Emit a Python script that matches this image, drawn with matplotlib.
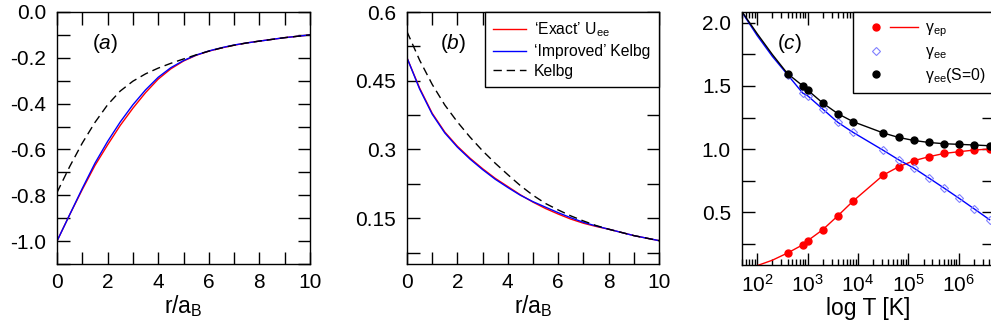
import matplotlib
matplotlib.use("Agg")
import matplotlib.pyplot as plt
from matplotlib.ticker import MultipleLocator, FuncFormatter, LogLocator, NullFormatter
from matplotlib.lines import Line2D
from matplotlib.legend_handler import HandlerTuple

plt.rcParams['font.family'] = ['Liberation Sans', 'DejaVu Sans']
plt.rcParams['mathtext.fontset'] = 'custom'
plt.rcParams['mathtext.rm'] = 'Liberation Sans'
plt.rcParams['mathtext.it'] = 'Liberation Sans:italic'
plt.rcParams['mathtext.bf'] = 'Liberation Sans:bold'
plt.rcParams['axes.unicode_minus'] = False

# ---- data ----
r = [0, 0.5, 1, 1.5, 2, 2.5, 3, 3.5, 4, 4.5, 5, 5.5, 6, 6.5, 7, 7.5, 8, 9, 10]

# (a) e-p potentials
a_exact = [-1.0, -0.885, -0.775, -0.67, -0.58, -0.495, -0.42, -0.352, -0.293, -0.248,
           -0.214, -0.189, -0.171, -0.157, -0.145, -0.135, -0.127, -0.112, -0.100]
a_improved = [-1.0, -0.885, -0.77, -0.66, -0.565, -0.48, -0.405, -0.34, -0.285, -0.243,
              -0.212, -0.188, -0.170, -0.156, -0.144, -0.135, -0.127, -0.112, -0.100]
a_kelbg = [-0.788, -0.675, -0.572, -0.482, -0.405, -0.345, -0.302, -0.27, -0.245, -0.224,
           -0.205, -0.187, -0.171, -0.157, -0.145, -0.135, -0.127, -0.112, -0.100]

# (b) e-e potentials
b_exact = [0.50, 0.434, 0.379, 0.338, 0.307, 0.281, 0.258, 0.237, 0.219, 0.201,
           0.185, 0.171, 0.159, 0.148, 0.139, 0.132, 0.126, 0.112, 0.101]
b_improved = [0.50, 0.432, 0.377, 0.336, 0.305, 0.279, 0.256, 0.235, 0.217, 0.200,
              0.186, 0.174, 0.162, 0.151, 0.141, 0.133, 0.126, 0.112, 0.101]
b_kelbg = [0.557, 0.495, 0.442, 0.397, 0.36, 0.327, 0.297, 0.27, 0.245, 0.221,
           0.200, 0.182, 0.168, 0.155, 0.144, 0.134, 0.126, 0.112, 0.101]

# (c) gamma parameters vs temperature
T_pts = [400, 800, 1000, 2000, 4000, 8000, 32000, 64000, 128000, 256000,
         512000, 1024000, 2048000, 4096000]
g_ep = [0.175, 0.24, 0.272, 0.36, 0.471, 0.587, 0.794, 0.859, 0.907, 0.939,
        0.965, 0.979, 0.992, 1.0]
g_ee = [1.59, 1.444, 1.423, 1.317, 1.211, 1.132, 0.989, 0.915, 0.849, 0.770,
        0.69, 0.608, 0.524, 0.439]
g_ee_s0 = [1.598, 1.502, 1.468, 1.365, 1.28, 1.217, 1.127, 1.092, 1.068, 1.052,
           1.042, 1.037, 1.032, 1.026]

# low-temperature ends of the fitted lines
T_low = [50, 100, 200]
g_ep_low = [0.05, 0.075, 0.118]
g_ee_low = [2.085, 1.9, 1.735]
g_ee_s0_low = [2.09, 1.915, 1.75]

W, H = 991, 336
fig = plt.figure(figsize=(W / 100, H / 100), dpi=100)

ax_a = fig.add_axes([57 / W, 72 / H, 253 / W, 252 / H])
ax_b = fig.add_axes([407 / W, 72 / H, 252 / W, 252 / H])
ax_c = fig.add_axes([742 / W, 71 / H, 252 / W, 253 / H])

FS = 15
LFS = 16.5
LEGFS = 11.3
LW = 1.0
dash = (0, (6, 3.5))


def style(ax):
    ax.tick_params(which='both', direction='in', top=True, right=True,
                   width=1.0, labelsize=FS, length=9)
    ax.tick_params(axis='y', pad=8)
    ax.tick_params(axis='x', pad=6.5)
    for s in ax.spines.values():
        s.set_linewidth(1.0)


# (a)
ax_a.plot(r, a_exact, color='red', lw=LW)
ax_a.plot(r, a_improved, color='blue', lw=LW)
ax_a.plot(r, a_kelbg, color='black', lw=LW, linestyle=dash)
ax_a.set_xlim(0, 10)
ax_a.set_ylim(-1.1, 0.0)
ax_a.xaxis.set_major_locator(MultipleLocator(2))
ax_a.xaxis.set_minor_locator(MultipleLocator(1))
ax_a.yaxis.set_major_locator(MultipleLocator(0.2))
ax_a.yaxis.set_minor_locator(MultipleLocator(0.1))
ax_a.yaxis.set_major_formatter(FuncFormatter(lambda v, p: '%.1f' % v))
ax_a.set_xlabel(r'r/a$_{\rm B}$', fontsize=LFS, labelpad=1)
ax_a.text(0.14, 0.875, r'($a$)', transform=ax_a.transAxes, fontsize=15, va='center')
style(ax_a)

# (b)
ax_b.plot(r, b_exact, color='red', lw=LW, label='‘Exact’ U$_{\\rm ee}$')
ax_b.plot(r, b_improved, color='blue', lw=LW, label='‘Improved’ Kelbg')
ax_b.plot(r, b_kelbg, color='black', lw=LW, linestyle=dash, label='Kelbg')
ax_b.set_xlim(0, 10)
ax_b.set_ylim(0.05, 0.6)
ax_b.xaxis.set_major_locator(MultipleLocator(2))
ax_b.xaxis.set_minor_locator(MultipleLocator(1))
ax_b.yaxis.set_major_locator(MultipleLocator(0.15))
ax_b.yaxis.set_minor_locator(MultipleLocator(0.075))
ax_b.yaxis.set_major_formatter(FuncFormatter(lambda v, p: '%g' % round(v, 3)))
ax_b.set_xlabel(r'r/a$_{\rm B}$', fontsize=LFS, labelpad=1)
ax_b.text(0.13, 0.875, r'($b$)', transform=ax_b.transAxes, fontsize=15, va='center')
leg = ax_b.legend(loc='upper right', borderaxespad=0, fontsize=LEGFS, handlelength=2.1,
                  handletextpad=0.5, labelspacing=0.3, borderpad=0.55,
                  fancybox=False, framealpha=1, edgecolor='black')
leg.get_frame().set_linewidth(1.0)
style(ax_b)

# (c)
ax_c.plot(T_low + T_pts, g_ep_low + g_ep, color='red', lw=LW)
ax_c.plot(T_low + T_pts, g_ee_low + g_ee, color='blue', lw=LW)
ax_c.plot(T_low + T_pts, g_ee_s0_low + g_ee_s0, color='black', lw=LW)
ax_c.plot(T_pts, g_ep, 'o', color='red', ms=5, ls='none')
ax_c.plot(T_pts, g_ee, 'D', mfc='none', mec='#8080ff', mew=0.8, ms=4, ls='none')
ax_c.plot(T_pts, g_ee_s0, 'o', color='black', ms=5, ls='none')
ax_c.set_xscale('log')
ax_c.set_xlim(50, 5e6)
ax_c.set_ylim(0.08, 2.087)
ax_c.xaxis.set_major_locator(LogLocator(base=10, numticks=12))
ax_c.xaxis.set_minor_locator(LogLocator(base=10, subs=range(2, 10), numticks=12))
ax_c.xaxis.set_minor_formatter(NullFormatter())
ax_c.yaxis.set_major_locator(MultipleLocator(0.5))
ax_c.yaxis.set_minor_locator(MultipleLocator(0.25))
ax_c.yaxis.set_major_formatter(FuncFormatter(lambda v, p: '%.1f' % v))
ax_c.set_xlabel('log T [K]', fontsize=LFS, labelpad=1)
ax_c.text(0.139, 0.875, r'($c$)', transform=ax_c.transAxes, fontsize=15, va='center')
style(ax_c)
ax_c.tick_params(axis='x', which='minor', length=4.5)

blank = Line2D([], [], ls='none')
h_ep = (Line2D([], [], marker='o', color='red', ms=5, ls='none'),
        Line2D([], [], color='red', lw=LW))
h_ee = (Line2D([], [], marker='D', mfc='none', mec='#8080ff', mew=0.8, ms=4, ls='none'), blank)
h_s0 = (Line2D([], [], marker='o', color='black', ms=5, ls='none'), blank)
leg_c = ax_c.legend([h_ep, h_ee, h_s0],
                    ['γ$_{\\rm ep}$', 'γ$_{\\rm ee}$', 'γ$_{\\rm ee}$(S=0)'],
                    handler_map={tuple: HandlerTuple(ndivide=2, pad=0.0)},
                    loc='upper right', borderaxespad=0, fontsize=LEGFS, handlelength=3.6,
                    handletextpad=0.4, labelspacing=0.3, borderpad=0.55,
                    fancybox=False, framealpha=1, edgecolor='black')
leg_c.get_frame().set_linewidth(1.0)

fig.savefig('out.png', dpi=100)
